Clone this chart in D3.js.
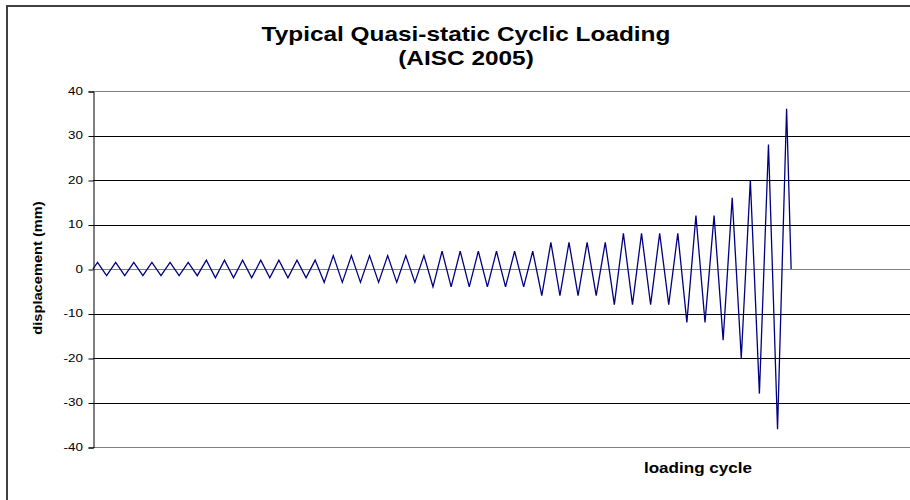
<!DOCTYPE html>
<html>
<head>
<meta charset="utf-8">
<script src="https://cdn.jsdelivr.net/npm/d3@7"></script>
<style>
  body { margin: 0; background: #fff; }
  text { font-family: Arial, "Liberation Sans", sans-serif; }
</style>
</head>
<body>
<svg id="chart" width="910" height="500"></svg>
<script>
// loading step (half cycle units) and displacement
var load_step = [0, 0.5, 1.5, 2.5, 3.5, 4.5, 5.5, 6.5, 7.5, 8.5, 9.5, 10.5, 11.5,
    12.5, 13.5, 14.5, 15.5, 16.5, 17.5, 18.5, 19.5, 20.5, 21.5, 22.5, 23.5, 24.5,
    25.5, 26.5, 27.5, 28.5, 29.5, 30.5, 31.5, 32.5, 33.5, 34.5, 35.5, 36.5,
    37.5, 38.5, 39.5, 40.5, 41.5, 42.5, 43.5, 44.5, 45.5, 46.5, 47.5, 48.5,
    49.5, 50.5, 51.5, 52.5, 53.5, 54.5, 55.5, 56.5, 57.5, 58.5, 59.5, 60.5,
    61.5, 62.5, 63.5, 64.5, 65.5, 66.5, 67.5, 68.5, 69.5, 70.5, 71.5, 72.5,
    73.5, 74.5, 75.5, 76.5, 77];
var displacement = [0, 1.5, -1.5, 1.5, -1.5, 1.5, -1.5, 1.5, -1.5, 1.5, -1.5, 1.5, -1.5,
    2, -2, 2, -2, 2, -2, 2, -2, 2, -2, 2, -2, 2,
    -3, 3, -3, 3, -3, 3, -3, 3, -3, 3, -3, 3,
    -4, 4, -4, 4, -4, 4, -4, 4, -4, 4, -4, 4,
    -6, 6, -6, 6, -6, 6, -6, 6,
    -8, 8, -8, 8, -8, 8, -8, 8,
    -12, 12, -12, 12,
    -16, 16, -20, 20, -28, 28, -36, 36, 0];
var y_ticks = [40, 30, 20, 10, 0, -10, -20, -30, -40];
var title_lines = ["Typical Quasi-static Cyclic Loading", "(AISC 2005)"];
var y_title = "displacement (mm)";
var x_title = "loading cycle";

var svg = d3.select("#chart");
var plot_left = 93, plot_top = 91, plot_bottom = 447, plot_right = 909;
var stretch = 1.22; // the original font runs wider than Arial

var x = d3.scaleLinear().domain([0, 90]).range([plot_left, plot_right]);
var y = d3.scaleLinear().domain([-40, 40]).range([plot_bottom, plot_top]);

// outer chart border
svg.append("rect")
    .attr("x", 7).attr("y", 6)
    .attr("width", 940).attr("height", 520)
    .attr("fill", "none")
    .attr("stroke", "#404040")
    .attr("stroke-width", 2);

// title
svg.selectAll(".title").data(title_lines).enter().append("text")
    .attr("class", "title")
    .attr("transform", function (d, i) { return "translate(466," + (41 + i * 24) + ") scale(" + stretch + ",1)"; })
    .attr("text-anchor", "middle")
    .attr("font-size", 20)
    .attr("font-weight", "bold")
    .text(function (d) { return d; });

// gridlines
svg.append("g").selectAll("line").data(y_ticks).enter().append("line")
    .attr("x1", plot_left).attr("x2", plot_right + 10)
    .attr("y1", function (d) { return Math.round(y(d)) + 0.5; })
    .attr("y2", function (d) { return Math.round(y(d)) + 0.5; })
    .attr("stroke", function (d) { return (d == 0 || Math.abs(d) == 40) ? "#808080" : "#000"; })
    .attr("stroke-width", 1);

// y axis line + ticks
var yAxis = d3.axisLeft(y).tickValues(y_ticks).tickSize(5).tickFormat("");
var gy = svg.append("g")
    .attr("transform", "translate(" + (plot_left + 0.5) + ",0.5)")
    .call(yAxis);
gy.select(".domain").attr("stroke", "#000");
gy.selectAll(".tick line").attr("stroke", "#000");

// tick labels
svg.append("g").selectAll("text").data(y_ticks).enter().append("text")
    .attr("transform", function (d) { return "translate(83," + y(d) + ") scale(" + stretch + ",1)"; })
    .attr("dy", "0.35em")
    .attr("text-anchor", "end")
    .attr("font-size", 11)
    .text(function (d) { return String(d); });

// axis titles
svg.append("text")
    .attr("transform", "translate(42," + 268 + ") rotate(-90) scale(" + stretch + ",1)")
    .attr("text-anchor", "middle")
    .attr("font-size", 12)
    .attr("font-weight", "bold")
    .text(y_title);

svg.append("text")
    .attr("transform", "translate(698,473) scale(" + stretch + ",1)")
    .attr("text-anchor", "middle")
    .attr("font-size", 14)
    .attr("font-weight", "bold")
    .text(x_title);

// loading history line
var lineFunction = d3.line()
    .x(function (d, i) { return x(load_step[i]); })
    .y(function (d) { return y(d); });

svg.append("path")
    .attr("d", lineFunction(displacement))
    .attr("fill", "none")
    .attr("stroke", "#000080")
    .attr("stroke-width", 1.3)
    .attr("stroke-linejoin", "miter");
</script>
</body>
</html>
